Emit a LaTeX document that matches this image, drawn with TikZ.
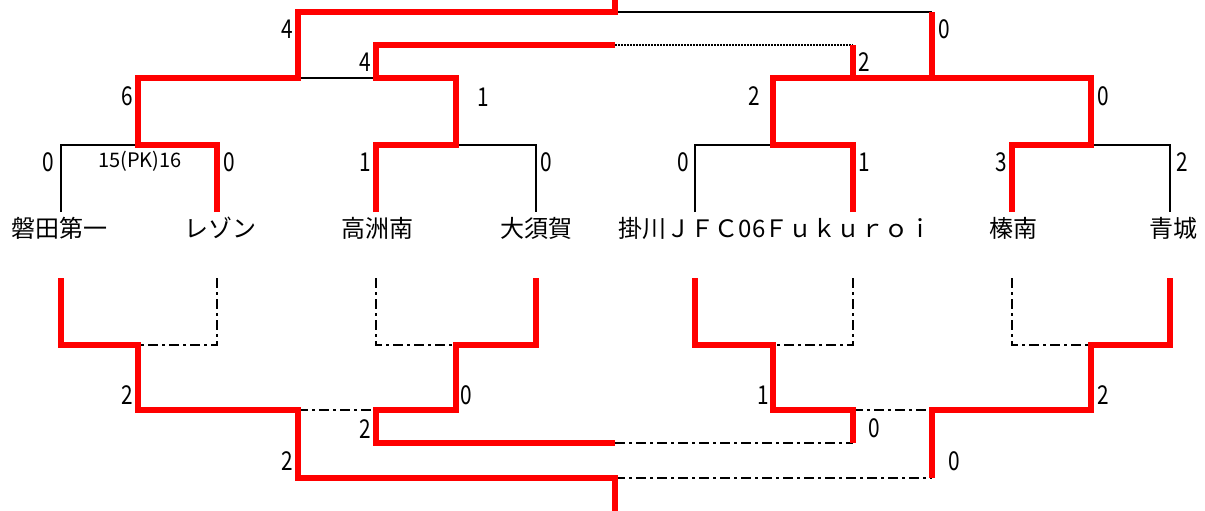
\documentclass[tikz,border=0pt]{standalone}
\usepackage{fontspec}
\newfontfamily\jp{Noto Sans CJK JP}
\begin{document}
\begin{tikzpicture}[x=1pt,y=-1pt,
  win/.style={draw=red,line width=6.5pt,line join=miter},
  lose/.style={draw=black,line width=1.3pt},
  dd/.style={lose,dash pattern=on 10pt off 4pt on 3pt off 4pt},
  dots/.style={draw=black,line width=1.1pt,dash pattern=on 1.5pt off 1.5pt},
  score/.style={font=\jp\fontsize{26}{28}\selectfont,inner sep=0pt,xscale=0.8,transform shape},
  team/.style={font=\jp\fontsize{24}{26}\selectfont,inner sep=0pt},
  pk/.style={font=\jp\fontsize{20}{22}\selectfont,inner sep=0pt,xscale=1.0,transform shape}]
\useasboundingbox (0,0) rectangle (1205,511);
\fill[white] (0,0) rectangle (1205,511);
% ---------- team names ----------
\node[team] (n1) at (60,228) {磐田第一};
\node[team] (n2) at (220,228) {レゾン};
\node[team] (n3) at (377,228) {高洲南};
\node[team] (n4) at (536,228) {大須賀};
\node[team] (n5) at (692,228) {掛川ＪＦＣ06};
\node[team] (n6) at (848.5,228) {Ｆｕｋｕｒｏｉ};
\node[team] (n7) at (1013,228) {榛南};
\node[team] (n8) at (1173,228) {青城};
% ---------- bracket coordinates ----------
\foreach \i/\x in {1/61,2/217,3/376,4/536,5/695,6/853,7/1012,8/1170}{
  \coordinate (a\i) at (\x,212);
  \coordinate (p\i) at (\x,145);
  \coordinate (b\i) at (\x,278);
  \coordinate (q\i) at (\x,345);
}
\foreach \i/\x in {1/138,2/456,3/773,4/1091}{
  \coordinate (j\i) at (\x,145);
  \coordinate (jt\i) at (\x,78);
  \coordinate (m\i) at (\x,345);
  \coordinate (mb\i) at (\x,410);
}
\coordinate (s1) at (298,78);  \coordinate (s1t) at (298,12);
\coordinate (s2) at (376,78);  \coordinate (s2t) at (376,45);
\coordinate (s3) at (853,78);  \coordinate (s3t) at (853,45);
\coordinate (s4) at (932,78);  \coordinate (s4t) at (932,12);
\coordinate (f1) at (615,12);  \coordinate (f2) at (615,45);
\coordinate (top) at (615,0);
\coordinate (r1) at (298,410); \coordinate (r1b) at (298,478);
\coordinate (r2) at (376,410); \coordinate (r2b) at (376,443);
\coordinate (r3) at (853,410); \coordinate (r3b) at (853,443);
\coordinate (r4) at (932,410); \coordinate (r4b) at (932,478);
\coordinate (g1) at (615,478); \coordinate (g2) at (615,443);
\coordinate (bot) at (615,511);
% ---------- upper bracket ----------
\draw[lose] (a1) -- (p1) -- (j1);
\draw[lose] (j2) -- (p4) -- (a4);
\draw[lose] (a5) -- (p5) -- (j3);
\draw[lose] (j4) -- (p8) -- (a8);
\draw[lose] (s1) -- (s2);
\draw[lose] (f1) -- (s4t);
\draw[dots] (f2) -- (s3t);
\draw[win] (a2) -- (p2) -- (j1) -- (jt1) -- (s1) -- (s1t) -- (f1) -- (top);
\draw[win] (a3) -- (p3) -- (j2) -- (jt2) -- (s2) -- (s2t) -- (f2);
\draw[win] (a6) -- (p6) -- (j3) -- (jt3) -- (jt4) -- (j4) -- (p7) -- (a7);
\draw[win] (s3) -- (s3t);
\draw[win] (s4) -- (s4t);
% ---------- lower bracket ----------
\draw[dd] (b2) -- (q2) -- (m1);
\draw[dd] (b3) -- (q3) -- (m2);
\draw[dd] (b6) -- (q6) -- (m3);
\draw[dd] (b7) -- (q7) -- (m4);
\draw[dd] (r1) -- (r2);
\draw[dd] (r3) -- (r4);
\draw[dd] (g2) -- (r3b);
\draw[dd] (g1) -- (r4b);
\draw[win] (b1) -- (q1) -- (m1) -- (mb1) -- (r1) -- (r1b) -- (g1) -- (bot);
\draw[win] (b4) -- (q4) -- (m2) -- (mb2) -- (r2) -- (r2b) -- (g2);
\draw[win] (b5) -- (q5) -- (m3) -- (mb3) -- (r3) -- (r3b);
\draw[win] (b8) -- (q8) -- (m4) -- (mb4) -- (r4) -- (r4b);
% ---------- upper scores ----------
\node[score] (u1) at (287,29) {4};
\node[score] (u2) at (944,29) {0};
\node[score] (u3) at (365,62) {4};
\node[score] (u4) at (864,62) {2};
\node[score] (u5) at (127,96) {6};
\node[score] (u6) at (483,97) {1};
\node[score] (u7) at (754,96) {2};
\node[score] (u8) at (1103,96) {0};
\node[score] (v1) at (48,162) {0};
\node[score] (v2) at (229,162) {0};
\node[score] (v3) at (365,162) {1};
\node[score] (v4) at (546,162) {0};
\node[score] (v5) at (683,162) {0};
\node[score] (v6) at (864,162) {1};
\node[score] (v7) at (1001,162) {3};
\node[score] (v8) at (1182,162) {2};
\node[pk] (pk) at (140,161) {15(PK)16};
% ---------- lower scores ----------
\node[score] (w1) at (127,395) {2};
\node[score] (w2) at (466,395) {0};
\node[score] (w3) at (763,395) {1};
\node[score] (w4) at (1103,395) {2};
\node[score] (w5) at (365,429) {2};
\node[score] (w6) at (874,428) {0};
\node[score] (w7) at (287,461) {2};
\node[score] (w8) at (954,461) {0};
\end{tikzpicture}
\end{document}
